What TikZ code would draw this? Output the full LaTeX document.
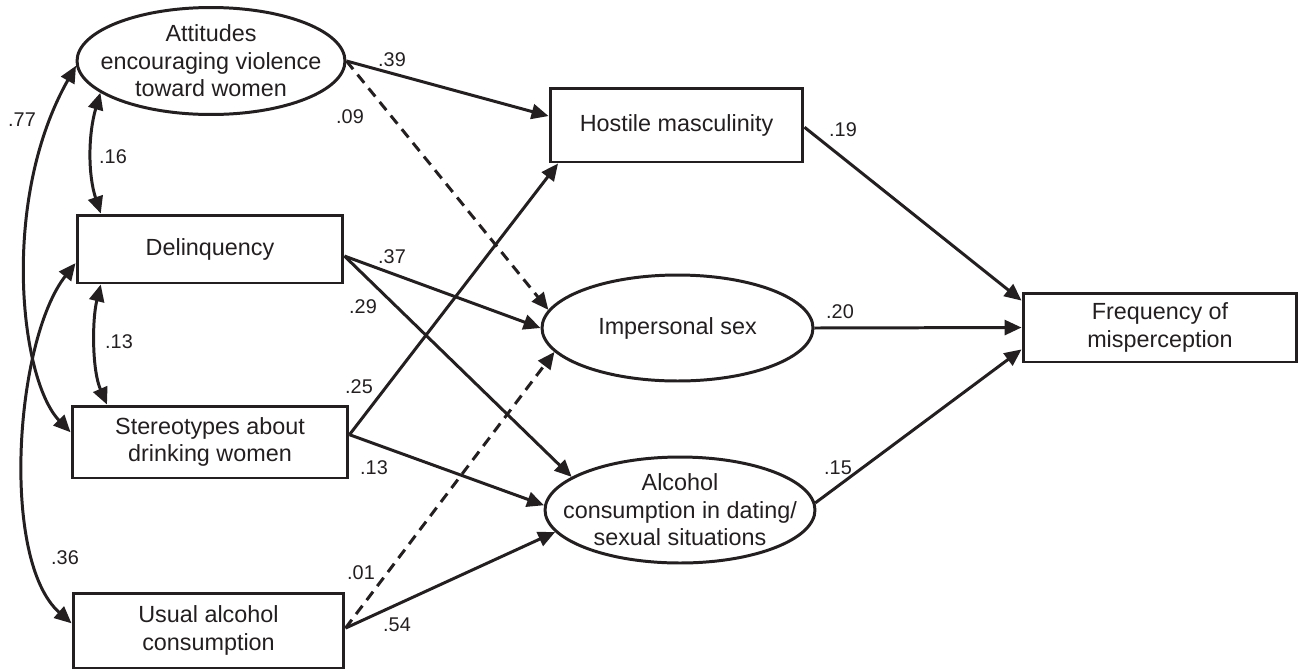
\documentclass[tikz,border=0pt]{standalone}
\usepackage{fontspec}
\setmainfont{Liberation Sans}
\usetikzlibrary{shapes.geometric,arrows.meta}
\definecolor{ink}{RGB}{35,31,32}

\begin{document}
\begin{tikzpicture}[x=0.02cm,y=-0.02cm,color=ink,
  every node/.style={font=\fontsize{13.3}{15.6}\selectfont},
  box/.style={draw,rectangle,line width=1.7pt,align=center,inner sep=0pt},
  oval/.style={draw,ellipse,line width=1.7pt,align=center,inner xsep=-20pt,inner ysep=-8pt},
  coef/.style={font=\fontsize{11.3}{13}\selectfont,inner sep=0pt},
  eff/.style={line width=1.7pt,-{Triangle[length=0.34cm,width=0.3cm]}},
  cov/.style={line width=1.7pt,{Triangle[length=0.34cm,width=0.3cm]}-{Triangle[length=0.34cm,width=0.3cm]}},
  ns/.style={dash pattern=on 6pt off 4pt}]
  \useasboundingbox (0,0) rectangle (1301,670);

  \node[oval,minimum width=5.36cm,minimum height=2.14cm] (att) at (211,61) {Attitudes\\encouraging violence\\toward women};
  \node[box,minimum width=5.32cm,minimum height=1.36cm] (del) at (210,249) {Delinquency};
  \node[box,minimum width=5.52cm,minimum height=1.44cm] (st) at (210,442) {Stereotypes about\\drinking women};
  \node[box,minimum width=5.42cm,minimum height=1.5cm] (ua) at (208.5,630.5) {Usual alcohol\\consumption};
  \node[box,minimum width=5.06cm,minimum height=1.48cm] (hm) at (676.5,125) {Hostile masculinity};
  \node[oval,minimum width=5.42cm,minimum height=2.12cm] (is) at (677.5,328) {Impersonal sex};
  \node[oval,minimum width=5.4cm,minimum height=2.12cm] (ac) at (680,510) {Alcohol\\consumption in dating/\\sexual situations};
  \node[box,minimum width=5.48cm,minimum height=1.38cm] (fm) at (1160,327.5) {Frequency of\\misperception};

  \draw[cov] (att.182) .. controls (0,200) and (20,380) .. (st.176);
  \draw[cov] (del.186) .. controls (15,340) and (0,560) .. (ua.177);
  \draw[cov] (att.196) .. controls (88,135) and (88,175) .. (del.162);
  \draw[cov] (del.198) .. controls (92,320) and (92,370) .. (st.160);

  \draw[eff] (att.east) -- (hm.176);
  \draw[eff,ns] (att.east) -- (is.172);
  \draw[eff] (del.-3.5) -- (is.west);
  \draw[eff] (del.-3.5) -- (ac.163);
  \draw[eff] (st.3) -- (hm.198.7);
  \draw[eff] (st.3) -- (ac.178);
  \draw[eff,ns] (ua.1) -- (is.191);
  \draw[eff] (ua.1) -- (ac.190);
  \draw[eff] (hm.-1.5) -- (fm.169.5);
  \draw[eff] (is.east) -- (fm.west);
  \draw[eff] (ac.3) -- (fm.189.3);

  \node[coef] (c77) at (22,120) {.77};
  \node[coef] (c16) at (113,157) {.16};
  \node[coef] (c13a) at (119,342) {.13};
  \node[coef] (c36) at (65,558) {.36};
  \node[coef] (c39) at (392,60) {.39};
  \node[coef] (c09) at (350,117) {.09};
  \node[coef] (c37) at (392,257) {.37};
  \node[coef] (c29) at (363,307) {.29};
  \node[coef] (c25) at (359,387) {.25};
  \node[coef] (c13b) at (374,468) {.13};
  \node[coef] (c01) at (361,573) {.01};
  \node[coef] (c54) at (397,625) {.54};
  \node[coef] (c19) at (843,130) {.19};
  \node[coef] (c20) at (840,312) {.20};
  \node[coef] (c15) at (838,468) {.15};
\end{tikzpicture}
\end{document}
